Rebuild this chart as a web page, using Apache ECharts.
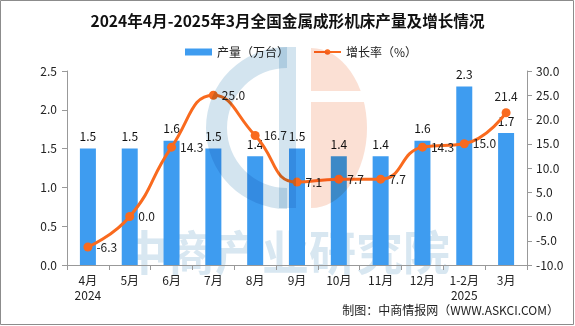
<!DOCTYPE html>
<html>
<head>
<meta charset="utf-8">
<script src="https://cdn.jsdelivr.net/npm/echarts@6/dist/echarts.min.js"></script>
<style>html,body{margin:0;padding:0;background:#fff}#c{width:575px;height:326px}</style>
</head>
<body>
<div id="c"></div>
<script>
const categories = ['4月\n2024','5月','6月','7月','8月','9月','10月','11月','12月','1-2月\n2025','3月'];
const output = [1.5,1.5,1.6,1.5,1.4,1.5,1.4,1.4,1.6,2.3,1.7];
const growth = [-6.3,0.0,14.3,25.0,16.7,7.1,7.7,7.7,14.3,15.0,21.4];
const leftTicks = [0,2.5,0.5];
const rightTicks = [-10,30,5];

const FONT = '"Noto Sans CJK SC", sans-serif';
const chart = echarts.init(document.getElementById('c'), null, {renderer:'canvas'});
chart.setOption({
  animation:false,
  backgroundColor:'#fff',
  textStyle:{fontFamily:FONT},
  title:{
    text:'2024年4月-2025年3月全国金属成形机床产量及增长情况',
    left:'center', top:8,
    textStyle:{fontSize:15.6,fontWeight:'bold',color:'#111',fontFamily:FONT}
  },
  legend:{
    top:41, left:180, itemGap:24, itemWidth:27, itemHeight:7,
    textStyle:{fontSize:12,color:'#222',fontFamily:FONT},
    data:[{name:'产量（万台）',icon:'rect'},{name:'增长率（%）'}]
  },
  grid:{left:67,right:48,top:71,bottom:61},
  xAxis:{
    type:'category', data:categories,
    axisLine:{lineStyle:{color:'#999'}},
    axisTick:{show:true,length:5,lineStyle:{color:'#999'}},
    axisLabel:{color:'#222',fontSize:12,lineHeight:15,margin:8,interval:0,fontFamily:FONT}
  },
  yAxis:[{
    type:'value', min:leftTicks[0], max:leftTicks[1], interval:leftTicks[2],
    axisLine:{show:true,lineStyle:{color:'#999'}},
    axisTick:{show:true,length:5,lineStyle:{color:'#999'}},
    splitLine:{show:false},
    axisLabel:{color:'#222',fontSize:12,margin:10,formatter:v=>v.toFixed(1),fontFamily:FONT}
  },{
    type:'value', min:rightTicks[0], max:rightTicks[1], interval:rightTicks[2],
    position:'right',
    axisLine:{show:true,lineStyle:{color:'#999'}},
    axisTick:{show:true,length:5,lineStyle:{color:'#999'}},
    splitLine:{show:false},
    axisLabel:{color:'#222',fontSize:12,margin:9,formatter:v=>v.toFixed(1),fontFamily:FONT}
  }],
  series:[{
    name:'产量（万台）', type:'bar', data:output, barWidth:16, z:3,
    itemStyle:{color:'#3E9CF0'},
    label:{show:true,position:'top',distance:6,color:'#111',fontSize:12,formatter:p=>p.value.toFixed(1),fontFamily:FONT}
  },{
    name:'增长率（%）', type:'line', yAxisIndex:1, smooth:true, z:5,
    data:growth.map((v,i)=>i===growth.length-1?{value:v,label:{position:'top',distance:6}}:v),
    symbol:'circle', symbolSize:9,
    lineStyle:{color:'#F96A1E',width:3},
    itemStyle:{color:'#F96A1E'},
    label:{show:true,position:'right',distance:4,color:'#222',fontSize:12,formatter:p=>Number(p.value).toFixed(1),fontFamily:FONT}
  }],
  graphic:[
    {type:'text', z:-1, left:121, top:229, style:{text:'中商产业研究院',fill:'#D8E7F1',fontSize:47,fontWeight:'bold',fontFamily:FONT}},
    {type:'sector', z:100, shape:{cx:287,cy:128,r:81,r0:60,startAngle:Math.PI/2,endAngle:Math.PI*1.5}, style:{fill:'#D3E4EF',blend:'multiply'}},
    {type:'rect', z:100, shape:{x:279,y:47,width:17,height:161}, style:{fill:'#D3E4EF',blend:'multiply'}},
    {type:'sector', z:100, x:311, y:128, scaleX:0.7, shape:{cx:0,cy:0,r:80,r0:0,startAngle:-Math.PI/2,endAngle:Math.PI/2}, style:{fill:'#FBE0D4',blend:'multiply'}},
    {type:'rect', z:101, shape:{x:310,y:91,width:60,height:11}, style:{fill:'#fff'}},
    {type:'text', z:10, right:16, top:304, style:{text:'制图：中商情报网（WWW.ASKCI.COM）',fill:'#222',fontSize:12,fontFamily:FONT}},
    {type:'rect', z:10, shape:{x:0.5,y:0.5,width:573,height:324}, style:{fill:'none',stroke:'#8c8c8c',lineWidth:1}}
  ]
});
</script>
</body>
</html>
